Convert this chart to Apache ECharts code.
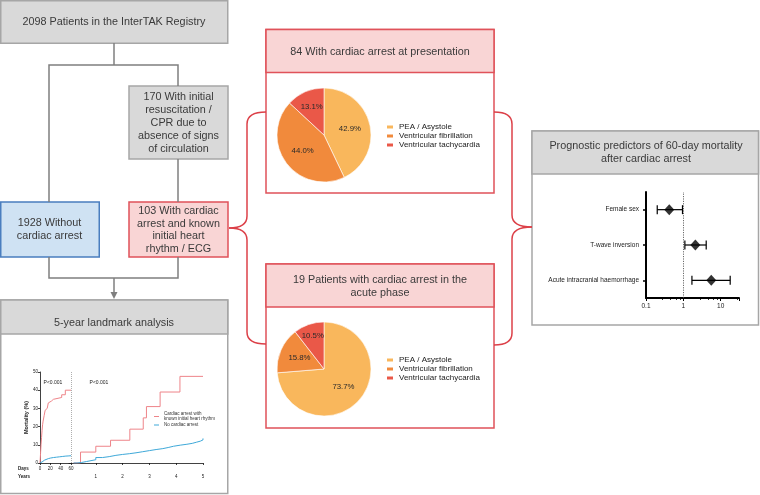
<!DOCTYPE html>
<html><head><meta charset="utf-8">
<script src="https://cdn.jsdelivr.net/npm/echarts@6/dist/echarts.min.js"></script>
<style>html,body{margin:0;padding:0;background:#fff}#c{width:760px;height:495px}</style>
</head><body><div id="c"></div>
<script>
const FONT = "'Liberation Sans', Arial, Helvetica, sans-serif";

// ---------- data ----------
const rhythmNames = ['PEA / Asystole', 'Ventricular fibrillation', 'Ventricular tachycardia'];
const presentationPct = [42.9, 44.0, 13.1];
const acutePhasePct = [73.7, 15.8, 10.5];

const predictorNames = ['Acute intracranial haemorrhage', 'T-wave inversion', 'Female sex'];
const predictorOR = [5.6, 2.1, 0.42];
const predictorLow = [1.7, 1.1, 0.2];
const predictorHigh = [18, 4.1, 0.95];
const oddsTicks = [0.1, 1, 10];

const mortalityTicks = [0, 10, 20, 30, 40, 50];
const dayTicks = [0, 20, 40, 60];
const yearTicks = [0, 1, 2, 3, 4, 5];

const caName = 'Cardiac arrest with known initial heart rhythm';
const noCaName = 'No cardiac arrest';
const kmDaysArrest = [[0,0],[1,5],[2,10],[3,14],[4,18],[5,21],[6,23],[8,26],[10,29],[12,30],[14,31],[16,33],[19,34],[22,35],[26,36],[42,37.5],[49,40],[60,40]];
const kmDaysNoArrest = [[0,0],[2,0.6],[4,1.1],[6,1.6],[9,2.0],[12,2.4],[16,2.7],[20,3.0],[26,3.2],[32,3.4],[38,3.6],[44,3.8],[50,3.9],[56,4.0],[60,4.1]];
const kmYearsArrest = [[0.17,0],[0.43,6],[1.0,9.2],[1.55,12.5],[2.27,18.6],[2.77,24.8],[2.89,31],[3.4,39],[4.14,47.6],[5,47.6]];
const kmYearsNoArrest = [[0.17,0],[0.3,0.3],[0.47,0.8],[0.65,1.8],[1.0,3.0],[1.25,3.5],[1.5,4.2],[1.75,4.7],[2.0,5.1],[2.25,5.6],[2.5,6.2],[2.75,6.8],[3.0,7.4],[3.25,7.9],[3.5,8.5],[3.7,9.2],[3.9,9.8],[4.15,10.3],[4.4,10.8],[4.6,11.4],[4.75,12],[4.9,12.7],[5,13.5]];

// ---------- styles ----------
const GRAY_FILL = '#d9d9d9', GRAY_LINE = '#a6a6a6', CONN = '#7f7f7f';
const BLUE_FILL = '#cfe2f3', BLUE_LINE = '#4a7ebf';
const PINK_FILL = '#f9d5d5', RED_LINE = '#e0525a', BRACE = '#dc4048';
const PIE_COLORS = ['#f9b75c', '#f18a3c', '#ea5848'];
const RED_CURVE = '#ee8489', BLUE_CURVE = '#3ea8d8';
const TEXT = '#3a3a3a';

function rect(x, y, w, h, fill, stroke) {
  return { type: 'rect', z: 0, silent: true, shape: { x: x, y: y, width: w, height: h },
    style: { fill: fill, stroke: stroke, lineWidth: 1.5 } };
}
function txt(x, y, text, size, opts) {
  opts = opts || {};
  return { type: 'text', z: 1, silent: true,
    style: { text: text, x: x, y: y, fontSize: size, fontFamily: FONT, fontWeight: opts.bold ? 'bold' : 'normal',
      fill: opts.color || TEXT, align: opts.align || 'center', textAlign: opts.align || 'center',
      verticalAlign: 'middle', textVerticalAlign: 'middle', lineHeight: opts.lh || size * 1.2 } };
}
function line(pts, color, w) {
  return { type: 'polyline', z: 0, silent: true, shape: { points: pts }, style: { stroke: color, lineWidth: w || 1.5, fill: null } };
}
function qcurve(x1, y1, cx, cy, x2, y2) {
  return { type: 'bezierCurve', z: 0, silent: true, shape: { x1: x1, y1: y1, cpx1: cx, cpy1: cy, x2: x2, y2: y2 },
    style: { stroke: BRACE, lineWidth: 1.5, fill: null } };
}
// curly brace: ends at xe (top ye1, bottom ye2), spine at xs, tip at xt, ym
function brace(xe, xs, xt, ye1, ym, ye2) {
  return [
    qcurve(xe, ye1, xs, ye1, xs, ye1 + 12),
    line([[xs, ye1 + 12], [xs, ym - 12]], BRACE),
    qcurve(xs, ym - 12, xs, ym, xt, ym),
    qcurve(xt, ym, xs, ym, xs, ym + 12),
    line([[xs, ym + 12], [xs, ye2 - 12]], BRACE),
    qcurve(xs, ye2 - 12, xs, ye2, xe, ye2)
  ];
}

const graphics = [
  // flowchart boxes
  rect(0.75, 0.75, 227, 42.5, GRAY_FILL, GRAY_LINE),
  rect(129, 86, 99, 73, GRAY_FILL, GRAY_LINE),
  rect(0.75, 202, 98.5, 55, BLUE_FILL, BLUE_LINE),
  rect(129, 202, 99, 55, PINK_FILL, RED_LINE),
  // 5-year box
  rect(0.75, 300, 227, 193.5, '#fff', GRAY_LINE),
  rect(0.75, 300, 227, 34, GRAY_FILL, GRAY_LINE),
  // pie boxes
  rect(266, 29.5, 228, 163.5, '#fff', RED_LINE),
  rect(266, 29.5, 228, 43, PINK_FILL, RED_LINE),
  rect(266, 264, 228, 164, '#fff', RED_LINE),
  rect(266, 264, 228, 43, PINK_FILL, RED_LINE),
  // forest box
  rect(532, 131, 226.5, 194, '#fff', GRAY_LINE),
  rect(532, 131, 226.5, 43, GRAY_FILL, GRAY_LINE),
  // connectors
  line([[114, 43], [114, 65]], CONN),
  line([[49, 202], [49, 65], [178, 65], [178, 86]], CONN),
  line([[178, 159], [178, 202]], CONN),
  line([[49, 257], [49, 278], [178, 278], [178, 257]], CONN),
  line([[114, 278], [114, 293]], CONN),
  { type: 'polygon', z: 0, silent: true, shape: { points: [[110.5, 292], [117.5, 292], [114, 299]] }, style: { fill: CONN } }
].concat(
  brace(266, 247, 229, 112, 228, 344),
  brace(494, 512, 532, 112, 227, 345),
  [
  // texts
  txt(114, 22.5, '2098 Patients in the InterTAK Registry', 10.8),
  txt(178.5, 123, '170 With initial\nresuscitation /\nCPR due to\nabsence of signs\nof circulation', 10.8, { lh: 13 }),
  txt(49.5, 229.5, '1928 Without\ncardiac arrest', 10.8, { lh: 13 }),
  txt(178.5, 230, '103 With cardiac\narrest and known\ninitial heart\nrhythm / ECG', 10.8, { lh: 12.7 }),
  txt(114, 323, '5-year landmark analysis', 10.8),
  txt(380, 52, '84 With cardiac arrest at presentation', 10.8),
  txt(380, 286.5, '19 Patients with cardiac arrest in the\nacute phase', 10.8, { lh: 13.3 }),
  txt(646, 152.5, 'Prognostic predictors of 60-day mortality\nafter cardiac arrest', 10.8, { lh: 13.3 }),
  // KM annotations
  txt(53, 383, 'P<0.001', 5, { color: '#222' }),
  txt(99, 383, 'P<0.001', 5, { color: '#222' }),
  txt(18, 469, 'Days', 4.5, { bold: true, align: 'left', color: '#222' }),
  txt(18, 477, 'Years', 4.5, { bold: true, align: 'left', color: '#222' })
]);

function makePie(values, center) {
  return {
    type: 'pie', center: center, radius: 47, startAngle: 90, clockwise: true,
    data: values.map((v, i) => ({ name: rhythmNames[i], value: v, itemStyle: { color: PIE_COLORS[i] } })),
    itemStyle: { borderColor: '#fff', borderWidth: 0.6 },
    label: { show: true, position: 'inside', color: '#2a2a2a', fontSize: 7.8, fontFamily: FONT,
      formatter: p => p.value.toFixed(1) + '%' },
    labelLine: { show: false },
    labelLayout: function (p) {
      const v = values[p.dataIndex];
      if (v >= 16) return {};
      const k = 1 + (16 - v) * 0.055;
      const r = p.labelRect;
      const cx = r.x + r.width / 2, cy = r.y + r.height / 2;
      return { dx: (cx - center[0]) * (k - 1), dy: (cy - center[1]) * (k - 1) };
    },
    emphasis: { disabled: true }, silent: true, animation: false
  };
}

const axisBlack = { show: true, lineStyle: { color: '#111', width: 0.8 } };
const kmLabel = { fontSize: 4.5, color: '#222', fontFamily: FONT };

const option = {
  animation: false,
  textStyle: { fontFamily: FONT },
  graphic: { elements: graphics },
  legend: [
    { data: [caName, noCaName], left: 154, top: 411.5, orient: 'vertical', icon: 'rect', itemWidth: 5, itemHeight: 1,
      itemGap: 1, selectedMode: false, textStyle: { fontSize: 4.5, lineHeight: 5, color: '#333', fontFamily: FONT },
      formatter: n => n === caName ? 'Cardiac arrest with\nknown initial heart rhythm' : n, padding: 0 },
    { data: rhythmNames, left: 385, top: 123, orient: 'vertical', icon: 'rect', itemWidth: 8, itemHeight: 5, itemGap: 1,
      selectedMode: false, textStyle: { fontSize: 8, lineHeight: 8, color: '#222', fontFamily: FONT }, padding: 0 },
    { data: rhythmNames, left: 385, top: 356, orient: 'vertical', icon: 'rect', itemWidth: 8, itemHeight: 5, itemGap: 1,
      selectedMode: false, textStyle: { fontSize: 8, lineHeight: 8, color: '#222', fontFamily: FONT }, padding: 0 }
  ],
  grid: [
    { left: 40, top: 372, width: 31, height: 91 },
    { left: 69, top: 372, width: 134, height: 91 },
    { left: 646, top: 192, width: 93, height: 106 }
  ],
  xAxis: [
    { type: 'value', gridIndex: 0, min: dayTicks[0], max: dayTicks[dayTicks.length - 1], interval: dayTicks[1] - dayTicks[0],
      axisLine: axisBlack, axisTick: { show: true, length: 2, lineStyle: { color: '#111', width: 0.8 } },
      axisLabel: Object.assign({ margin: 3.5 }, kmLabel), splitLine: { show: false } },
    { type: 'value', gridIndex: 1, min: yearTicks[0], max: yearTicks[yearTicks.length - 1], interval: yearTicks[1] - yearTicks[0],
      axisLine: axisBlack, axisTick: { show: true, length: 2, lineStyle: { color: '#111', width: 0.8 } },
      axisLabel: Object.assign({ margin: 11.5, showMinLabel: false }, kmLabel), splitLine: { show: false } },
    { type: 'log', logBase: 10, gridIndex: 2, min: oddsTicks[0], max: 31,
      axisLine: { show: true, lineStyle: { color: '#000', width: 2 } },
      axisTick: { show: true, length: 3, lineStyle: { color: '#000', width: 1 } },
      minorTick: { show: true, splitNumber: 5, length: 2, lineStyle: { color: '#000', width: 0.8 } },
      axisLabel: { fontSize: 6.5, color: '#222', margin: 5, showMaxLabel: false, fontFamily: FONT,
        formatter: v => String(v) },
      splitLine: { show: false } }
  ],
  yAxis: [
    { type: 'value', gridIndex: 0, min: mortalityTicks[0], max: mortalityTicks[mortalityTicks.length - 1],
      interval: mortalityTicks[1] - mortalityTicks[0],
      axisLine: axisBlack, axisTick: { show: true, length: 2, lineStyle: { color: '#111', width: 0.8 } },
      axisLabel: Object.assign({ margin: 2 }, kmLabel), splitLine: { show: false },
      name: 'Mortality (%)', nameLocation: 'middle', nameGap: 8, nameRotate: 90,
      nameTextStyle: { fontSize: 5.5, fontWeight: 'bold', color: '#222', fontFamily: FONT } },
    { type: 'value', gridIndex: 1, min: mortalityTicks[0], max: mortalityTicks[mortalityTicks.length - 1], show: false },
    { type: 'category', gridIndex: 2, data: predictorNames,
      axisLine: { show: true, lineStyle: { color: '#000', width: 2 } },
      axisTick: { show: true, alignWithLabel: true, length: 3, lineStyle: { color: '#000', width: 1.5 } },
      axisLabel: { fontSize: 6.5, color: '#222', margin: 7, fontFamily: FONT } }
  ],
  series: [
    { name: caName, type: 'line', xAxisIndex: 0, yAxisIndex: 0, step: 'end', showSymbol: false, data: kmDaysArrest,
      lineStyle: { color: RED_CURVE, width: 1 }, itemStyle: { color: RED_CURVE }, silent: true,
      markLine: { silent: true, symbol: 'none', label: { show: false }, data: [{ xAxis: dayTicks[dayTicks.length - 1] }],
        lineStyle: { color: '#999', type: [1, 1], width: 0.8 } } },
    { name: noCaName, type: 'line', xAxisIndex: 0, yAxisIndex: 0, step: 'end', showSymbol: false, data: kmDaysNoArrest,
      lineStyle: { color: BLUE_CURVE, width: 1 }, itemStyle: { color: BLUE_CURVE }, silent: true },
    { name: caName, type: 'line', xAxisIndex: 1, yAxisIndex: 1, step: 'end', showSymbol: false, data: kmYearsArrest,
      lineStyle: { color: RED_CURVE, width: 1 }, itemStyle: { color: RED_CURVE }, silent: true },
    { name: noCaName, type: 'line', xAxisIndex: 1, yAxisIndex: 1, step: 'end', showSymbol: false, data: kmYearsNoArrest,
      lineStyle: { color: BLUE_CURVE, width: 1 }, itemStyle: { color: BLUE_CURVE }, silent: true },
    makePie(presentationPct, [324, 135]),
    makePie(acutePhasePct, [324, 369]),
    { type: 'custom', xAxisIndex: 2, yAxisIndex: 2, silent: true,
      data: predictorNames.map((n, i) => [predictorLow[i], predictorHigh[i], i]),
      encode: { x: [0, 1], y: 2 },
      renderItem: function (params, api) {
        const lo = api.coord([api.value(0), api.value(2)]);
        const hi = api.coord([api.value(1), api.value(2)]);
        const h = 4.5, st = { stroke: '#000', lineWidth: 1.2 };
        return { type: 'group', children: [
          { type: 'line', shape: { x1: lo[0], y1: lo[1], x2: hi[0], y2: hi[1] }, style: st },
          { type: 'line', shape: { x1: lo[0], y1: lo[1] - h, x2: lo[0], y2: lo[1] + h }, style: st },
          { type: 'line', shape: { x1: hi[0], y1: hi[1] - h, x2: hi[0], y2: hi[1] + h }, style: st }
        ] };
      } },
    { type: 'scatter', xAxisIndex: 2, yAxisIndex: 2, silent: true, symbol: 'diamond', symbolSize: [10, 11], z: 5,
      data: predictorNames.map((n, i) => [predictorOR[i], n]), itemStyle: { color: '#000' },
      markLine: { silent: true, symbol: 'none', label: { show: false }, data: [{ xAxis: 1 }],
        lineStyle: { color: '#444', type: [1.2, 1.2], width: 0.8 } } }
  ]
};

const chart = echarts.init(document.getElementById('c'), null, { renderer: 'canvas' });
chart.setOption(option);
</script>
</body></html>
